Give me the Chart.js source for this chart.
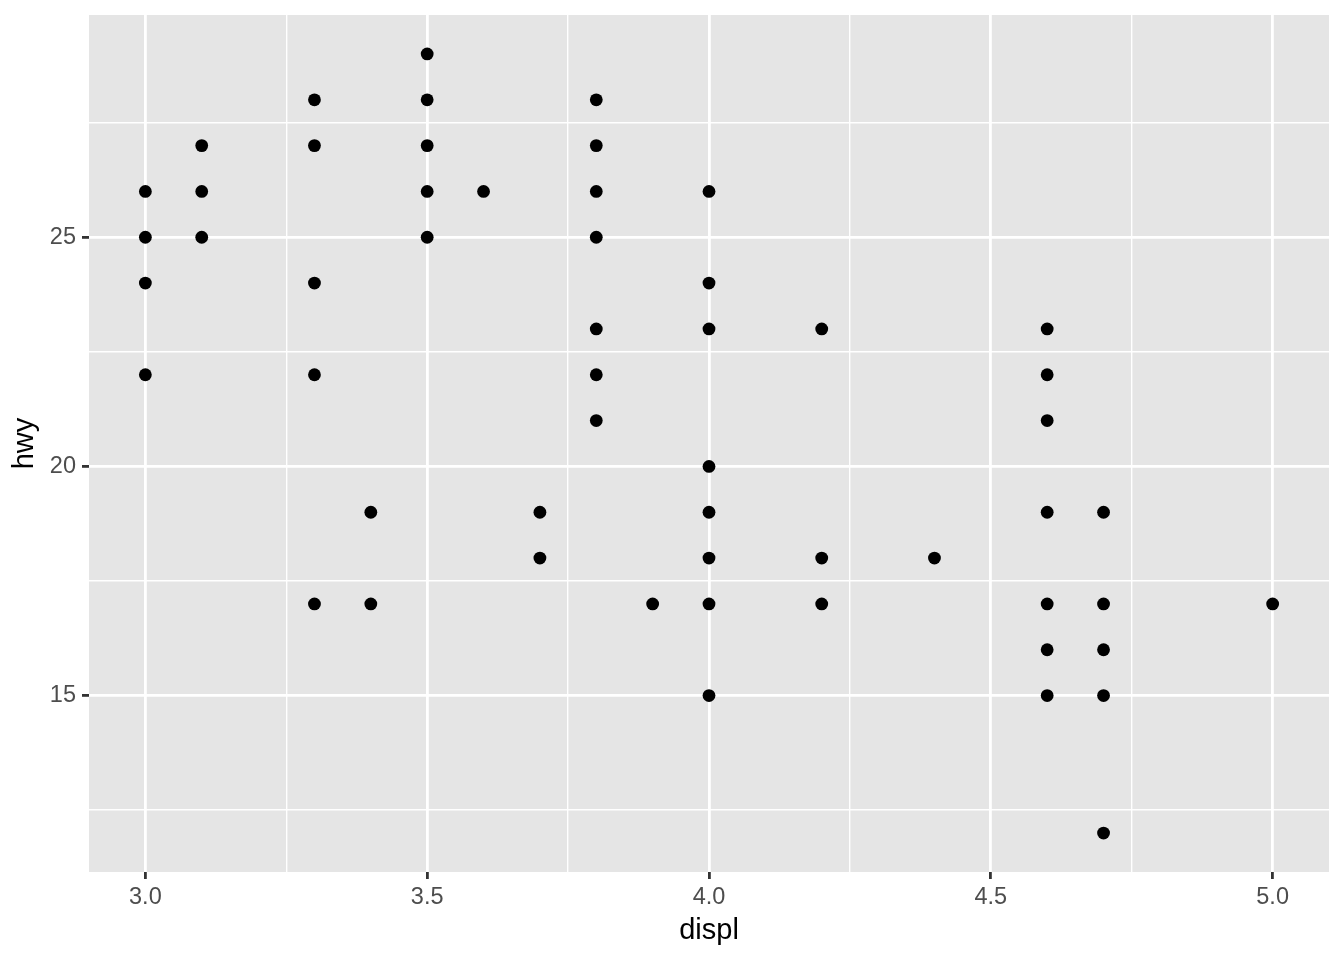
<!DOCTYPE html>
<html>
<head>
<meta charset="utf-8">
<script src="https://cdn.jsdelivr.net/npm/chart.js@4.4.1/dist/chart.umd.min.js"></script>
<style>
	body { margin: 0; background: #ffffff; }
</style>
</head>
<body>
<canvas id="chart_mpg" width="1344" height="960"></canvas>
<script>
// datos (displ / hwy)
let displ = [
	3.0, 3.0, 3.0, 3.0,
	3.1, 3.1, 3.1,
	3.3, 3.3, 3.3, 3.3, 3.3,
	3.4, 3.4,
	3.5, 3.5, 3.5, 3.5, 3.5,
	3.6,
	3.7, 3.7,
	3.8, 3.8, 3.8, 3.8, 3.8, 3.8, 3.8,
	3.9,
	4.0, 4.0, 4.0, 4.0, 4.0, 4.0, 4.0, 4.0,
	4.2, 4.2, 4.2,
	4.4,
	4.6, 4.6, 4.6, 4.6, 4.6, 4.6, 4.6,
	4.7, 4.7, 4.7, 4.7, 4.7,
	5.0
];
let hwy = [
	26, 25, 24, 22,
	27, 26, 25,
	28, 27, 24, 22, 17,
	19, 17,
	29, 28, 27, 26, 25,
	26,
	19, 18,
	28, 27, 26, 25, 23, 22, 21,
	17,
	26, 24, 23, 20, 19, 18, 17, 15,
	23, 18, 17,
	18,
	23, 22, 21, 19, 17, 16, 15,
	19, 17, 16, 15, 12,
	17
];
let xMajor = [3.0, 3.5, 4.0, 4.5, 5.0];
let xMinor = [3.25, 3.75, 4.25, 4.75];
let yMajor = [15, 20, 25];
let yMinor = [12.5, 17.5, 22.5, 27.5];

let puntos = displ.map((d, i) => ({ x: d, y: hwy[i] }));

let esMayor = (lista, v) => lista.some(m => Math.abs(m - v) < 1e-9);

let fondoPanel = {
	id: 'fondoPanel',
	beforeDraw(chart) {
		let a = chart.chartArea;
		let ctx = chart.ctx;
		ctx.save();
		ctx.fillStyle = '#E5E5E5';
		ctx.fillRect(a.left, a.top, a.right - a.left, a.bottom - a.top);
		ctx.restore();
	}
};

let gridOpts = (mayores) => ({
	color: '#ffffff',
	lineWidth: c => esMayor(mayores, c.tick.value) ? 2.8 : 1.4,
	tickColor: c => esMayor(mayores, c.tick.value) ? '#333333' : 'rgba(0,0,0,0)',
	tickWidth: c => esMayor(mayores, c.tick.value) ? 2.8 : 0,
	tickLength: 7,
	drawTicks: true
});

let ctx = document.getElementById('chart_mpg');
new Chart(ctx, {
	type: 'scatter',
	data: {
		datasets: [{
			data: puntos,
			backgroundColor: '#000000',
			borderColor: '#000000',
			borderWidth: 0,
			pointRadius: 6.4,
			pointHoverRadius: 6.4
		}]
	},
	plugins: [fondoPanel],
	options: {
		responsive: false,
		animation: false,
		events: [],
		layout: { padding: { top: 15, right: 15, left: 0, bottom: 0 } },
		plugins: {
			legend: { display: false },
			tooltip: { enabled: false }
		},
		scales: {
			x: {
				type: 'linear',
				min: 2.9,
				max: 5.1,
				afterBuildTicks: s => {
					s.ticks = xMajor.concat(xMinor).sort((a, b) => a - b).map(v => ({ value: v }));
				},
				afterFit: s => {
					s.height = 88;
					s.paddingLeft = 0;
					s.paddingRight = 0;
				},
				border: { display: false },
				grid: gridOpts(xMajor),
				ticks: {
					autoSkip: false,
					maxRotation: 0,
					padding: 4,
					color: '#4D4D4D',
					font: { family: '"Liberation Sans", Arial, sans-serif', size: 23.5 },
					callback: v => esMayor(xMajor, v) ? v.toFixed(1) : ''
				},
				title: {
					display: true,
					text: 'displ',
					color: '#000000',
					font: { family: '"Liberation Sans", Arial, sans-serif', size: 29 },
					padding: { top: 0, bottom: 12 }
				}
			},
			y: {
				type: 'linear',
				min: 11.15,
				max: 29.85,
				afterBuildTicks: s => {
					s.ticks = yMajor.concat(yMinor).sort((a, b) => a - b).map(v => ({ value: v }));
				},
				afterFit: s => {
					s.width = 89;
					s.paddingTop = 0;
					s.paddingBottom = 0;
				},
				border: { display: false },
				grid: gridOpts(yMajor),
				ticks: {
					autoSkip: false,
					padding: 6,
					color: '#4D4D4D',
					font: { family: '"Liberation Sans", Arial, sans-serif', size: 23.5 },
					callback: v => esMayor(yMajor, v) ? String(v) : ''
				},
				title: {
					display: true,
					text: 'hwy',
					color: '#000000',
					font: { family: '"Liberation Sans", Arial, sans-serif', size: 29 },
					padding: { top: 8, bottom: 0 }
				}
			}
		}
	}
});
</script>
</body>
</html>
